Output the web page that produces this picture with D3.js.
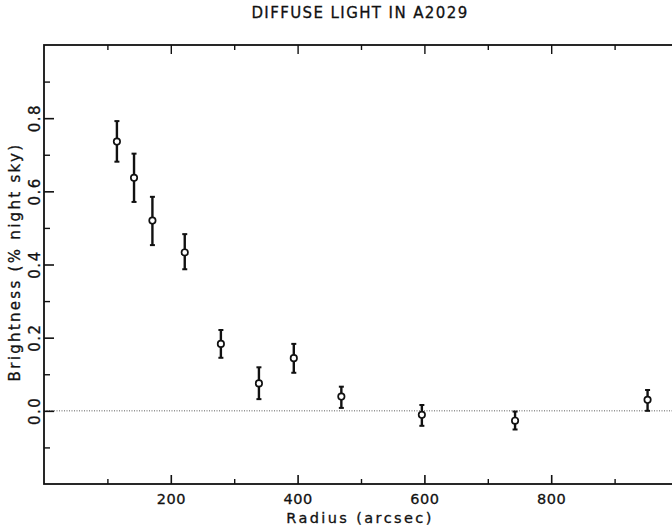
<!DOCTYPE html>
<html>
<head>
<meta charset="utf-8">
<script src="https://cdn.jsdelivr.net/npm/d3@7"></script>
<style>
  html, body { margin: 0; padding: 0; background: #fff; }
  svg { display: block; }
  text { font-family: "DejaVu Sans", sans-serif; fill: #111; stroke: #111; stroke-width: 0.3px; }
</style>
</head>
<body>
<svg id="chart" width="672" height="526"></svg>
<script>
// Radial profile of diffuse light: radius (arcsec), brightness (% night sky), 1-sigma error
const radius     = [115, 142, 171, 222, 279, 339, 394, 469, 596, 743, 952];
const brightness = [0.736, 0.637, 0.520, 0.433, 0.183, 0.075, 0.144, 0.039, -0.011, -0.027, 0.030];
const errHigh    = [0.056, 0.066, 0.065, 0.050, 0.038, 0.044, 0.039, 0.027, 0.027, 0.025, 0.027];
const errLow     = [0.055, 0.066, 0.067, 0.046, 0.038, 0.043, 0.040, 0.031, 0.030, 0.024, 0.030];

const xMajor = [200, 400, 600, 800];
const xMinor = [100, 300, 500, 700, 900];
const yMajor = [0.0, 0.2, 0.4, 0.6, 0.8];
const yMinor = [-0.1, 0.1, 0.3, 0.5, 0.7, 0.9];

const titleText = "DIFFUSE LIGHT IN A2029";
const xTitle = "Radius (arcsec)";
const yTitle = "Brightness (% night sky)";

const svg = d3.select("#chart");
const plotL = 44, plotR = 678, plotT = 45, plotB = 484;

const x = d3.scaleLinear().domain([0, 1000]).range([plotL, plotR]);
const y = d3.scaleLinear().domain([-0.2, 1.0]).range([plotB, plotT]);

// Title
svg.append("text")
  .attr("x", 360)
  .attr("y", 18)
  .attr("text-anchor", "middle")
  .style("font-size", "15px")
  .style("letter-spacing", "1.4px")
  .text(titleText);

// Zero reference line
svg.append("line")
  .attr("x1", plotL).attr("x2", plotR)
  .attr("y1", y(0)).attr("y2", y(0))
  .attr("stroke", "#333")
  .attr("stroke-width", 0.8)
  .attr("stroke-dasharray", "1,1.5");

// Bottom axis
const gx = svg.append("g").attr("transform", `translate(0,${plotB})`);
gx.call(d3.axisBottom(x).tickValues(xMajor).tickSize(-9).tickPadding(10).tickFormat(d3.format("d")));
gx.call(g => g.select(".domain").remove());
gx.selectAll(".tick line").attr("stroke", "#111").attr("stroke-width", 1.6);
gx.selectAll(".tick text")
  .style("font-size", "14.5px")
  .style("font-family", "DejaVu Sans, sans-serif")
  .style("letter-spacing", "0.5px")
  .attr("fill", "#111");
const gxm = svg.append("g").attr("transform", `translate(0,${plotB})`);
gxm.call(d3.axisBottom(x).tickValues(xMinor).tickSize(-5).tickFormat(""));
gxm.call(g => g.select(".domain").remove());
gxm.selectAll(".tick line").attr("stroke", "#111").attr("stroke-width", 1.4);

// Top axis (ticks only)
const gt = svg.append("g").attr("transform", `translate(0,${plotT})`);
gt.call(d3.axisTop(x).tickValues(xMajor).tickSize(-9).tickFormat(""));
gt.call(g => g.select(".domain").remove());
gt.selectAll(".tick line").attr("stroke", "#111").attr("stroke-width", 1.4);
const gtm = svg.append("g").attr("transform", `translate(0,${plotT})`);
gtm.call(d3.axisTop(x).tickValues(xMinor).tickSize(-5).tickFormat(""));
gtm.call(g => g.select(".domain").remove());
gtm.selectAll(".tick line").attr("stroke", "#111").attr("stroke-width", 1.4);

// Left axis
const gy = svg.append("g").attr("transform", `translate(${plotL},0)`);
gy.call(d3.axisLeft(y).tickValues(yMajor).tickSize(-10).tickFormat(""));
gy.call(g => g.select(".domain").remove());
gy.selectAll(".tick line").attr("stroke", "#111").attr("stroke-width", 1.6);
const gym = svg.append("g").attr("transform", `translate(${plotL},0)`);
gym.call(d3.axisLeft(y).tickValues(yMinor).tickSize(-6).tickFormat(""));
gym.call(g => g.select(".domain").remove());
gym.selectAll(".tick line").attr("stroke", "#111").attr("stroke-width", 1.4);

// Rotated y tick labels
svg.append("g").selectAll("text")
  .data(yMajor)
  .join("text")
  .attr("transform", d => `translate(39.5,${y(d)}) rotate(-90)`)
  .attr("text-anchor", "middle")
  .style("font-size", "15px")
  .style("letter-spacing", "1.5px")
  .text(d => d3.format(".1f")(d));

// Frame
svg.append("rect")
  .attr("x", plotL).attr("y", plotT)
  .attr("width", plotR - plotL).attr("height", plotB - plotT)
  .attr("fill", "none")
  .attr("stroke", "#111")
  .attr("stroke-width", 1.8);

// Axis titles
svg.append("text")
  .attr("x", 360)
  .attr("y", 523)
  .attr("text-anchor", "middle")
  .style("font-size", "14.5px")
  .style("letter-spacing", "2.4px")
  .text(xTitle);

svg.append("text")
  .attr("transform", `translate(20,262) rotate(-90)`)
  .attr("text-anchor", "middle")
  .style("font-size", "15px")
  .style("letter-spacing", "2.3px")
  .text(yTitle);

// Error bars and markers
const pts = radius.map((r, i) => ({ r, b: brightness[i], hi: brightness[i] + errHigh[i], lo: brightness[i] - errLow[i] }));
const gp = svg.append("g");
gp.selectAll("line.err")
  .data(pts).join("line").attr("class", "err")
  .attr("x1", d => x(d.r)).attr("x2", d => x(d.r))
  .attr("y1", d => y(d.hi)).attr("y2", d => y(d.lo))
  .attr("stroke", "#111").attr("stroke-width", 2.4);
gp.selectAll("line.capt")
  .data(pts).join("line").attr("class", "capt")
  .attr("x1", d => x(d.r) - 2.5).attr("x2", d => x(d.r) + 2.5)
  .attr("y1", d => y(d.hi)).attr("y2", d => y(d.hi))
  .attr("stroke", "#111").attr("stroke-width", 2);
gp.selectAll("line.capb")
  .data(pts).join("line").attr("class", "capb")
  .attr("x1", d => x(d.r) - 2.5).attr("x2", d => x(d.r) + 2.5)
  .attr("y1", d => y(d.lo)).attr("y2", d => y(d.lo))
  .attr("stroke", "#111").attr("stroke-width", 2);
gp.selectAll("circle")
  .data(pts).join("circle")
  .attr("cx", d => x(d.r)).attr("cy", d => y(d.b))
  .attr("r", 3.2)
  .attr("fill", "#fff")
  .attr("stroke", "#111")
  .attr("stroke-width", 1.7);
</script>
</body>
</html>
